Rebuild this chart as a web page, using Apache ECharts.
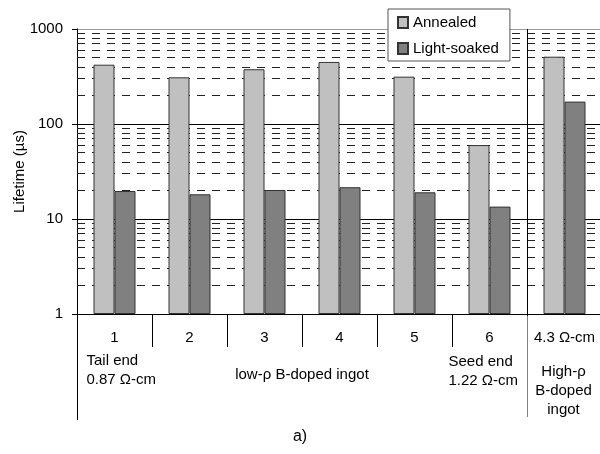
<!DOCTYPE html>
<html>
<head>
<meta charset="utf-8">
<script src="https://cdn.jsdelivr.net/npm/echarts@6/dist/echarts.min.js"></script>
<style>html,body{margin:0;padding:0;background:#fff}#c{width:600px;height:454px}</style>
</head>
<body>
<div id="c"></div>
<script>
var categories = ['1', '2', '3', '4', '5', '6', '4.3 Ω-cm'];
var annealed = [421, 310, 377, 450, 315, 60, 511];
var lightSoaked = [19.7, 18.2, 20.2, 21.6, 19.1, 13.5, 172];
var seriesNames = ['Annealed', 'Light-soaked'];
var minorGridValues = [2, 3, 4, 5, 6, 7, 8, 9, 20, 30, 40, 50, 60, 70, 80, 90, 200, 300, 400, 500, 600, 700, 800, 900];
var yAxisName = 'Lifetime (µs)';
var caption = 'a)';

var FONT = 'Liberation Sans, Arial, sans-serif';
var chart = echarts.init(document.getElementById('c'), null, {renderer: 'canvas'});

var option = {
  animation: false,
  backgroundColor: '#fff',
  title: {
    text: caption, left: 'center', top: 424,
    textStyle: {fontFamily: FONT, fontSize: 16, fontWeight: 'normal', color: '#000'}
  },
  legend: {
    data: seriesNames,
    orient: 'vertical',
    left: 388, top: 9,
    padding: [6, 11, 5, 9],
    itemGap: 11,
    itemWidth: 10, itemHeight: 11,
    icon: 'rect',
    backgroundColor: '#fff',
    borderColor: '#555', borderWidth: 1,
    textStyle: {fontFamily: FONT, fontSize: 15, color: '#000'},
    z: 10
  },
  grid: {left: 77, right: -2, top: 29, bottom: 140, containLabel: false, outerBoundsMode: 'none'},
  xAxis: {
    type: 'category',
    data: categories,
    position: 'bottom',
    axisLine: {lineStyle: {color: '#000', width: 1}},
    axisTick: {show: true, length: 33, lineStyle: {color: '#000'},
      interval: function (i) { return i >= 1 && i <= 5; }},
    axisLabel: {margin: 16, fontFamily: FONT, fontSize: 15, color: '#000', interval: 0},
    splitLine: {show: false}
  },
  yAxis: {
    type: 'log', logBase: 10, min: 1, max: 1000,
    name: yAxisName, nameLocation: 'middle', nameGap: 50, nameRotate: 90,
    nameMoveOverlap: false,
    nameTextStyle: {fontFamily: FONT, fontSize: 15, color: '#000'},
    axisLine: {show: true, lineStyle: {color: '#000'}},
    axisTick: {show: true, length: 5, lineStyle: {color: '#000'}},
    axisLabel: {margin: 14, fontFamily: FONT, fontSize: 15, color: '#000',
      formatter: function (v) { return String(v); }},
    splitLine: {show: true, lineStyle: {color: ['#000', '#000', '#000', '#999'], width: 1}}
  },
  series: [{
    name: seriesNames[0], type: 'bar', data: annealed,
    barWidth: 21, barGap: '0%',
    itemStyle: {color: '#c0c0c0', borderColor: '#333', borderWidth: 1},
    markLine: {
      z: 1, silent: true, symbol: ['none', 'none'],
      label: {show: false},
      lineStyle: {color: '#222', width: 1, type: [8, 7]},
      data: minorGridValues.map(function (v) { return {yAxis: v}; })
    }
  }, {
    name: seriesNames[1], type: 'bar', data: lightSoaked,
    barWidth: 21, barGap: '0%',
    itemStyle: {color: '#808080', borderColor: '#333', borderWidth: 1}
  }]
};
chart.setOption(option);

// annotation texts and group separators anchored to the axes
function catX(i) { return chart.convertToPixel({xAxisIndex: 0}, categories[i]); }
function valY(v) { return chart.convertToPixel({yAxisIndex: 0}, v); }
var band = catX(1) - catX(0);
var xLeft = catX(0) - band / 2;
var xSep = (catX(5) + catX(6)) / 2;
var yTop = valY(1000), yBase = valY(1);
var txt = function (x, y, text, align) {
  return {type: 'text', x: x, y: y, z: 20,
    style: {text: text, fill: '#000', font: '15px ' + FONT, lineHeight: 19, align: align, verticalAlign: 'top'}};
};
var ln = function (x1, y1, x2, y2, color) {
  return {type: 'line', z: 3, silent: true,
    shape: {x1: x1, y1: y1, x2: x2, y2: y2},
    style: {stroke: color, lineWidth: 1}};
};
var sx = Math.round(xSep) + 0.5, lx = Math.round(xLeft) + 0.5;
chart.setOption({
  graphic: [
    ln(sx, yTop, sx, yBase + 2, '#000'),
    ln(sx, yBase + 2, sx, yBase + 103, '#808080'),
    ln(lx, yBase, lx, yBase + 106, '#000'),
    txt(catX(0) - 28, 351, 'Tail end\n0.87 Ω-cm', 'left'),
    txt((catX(2) + catX(3)) / 2, 365, 'low-ρ B-doped ingot', 'center'),
    txt(catX(5) - 41, 352, 'Seed end\n1.22 Ω-cm', 'left'),
    txt(catX(6) - 1, 362, 'High-ρ\nB-doped\ningot', 'center')
  ]
});
</script>
</body>
</html>
